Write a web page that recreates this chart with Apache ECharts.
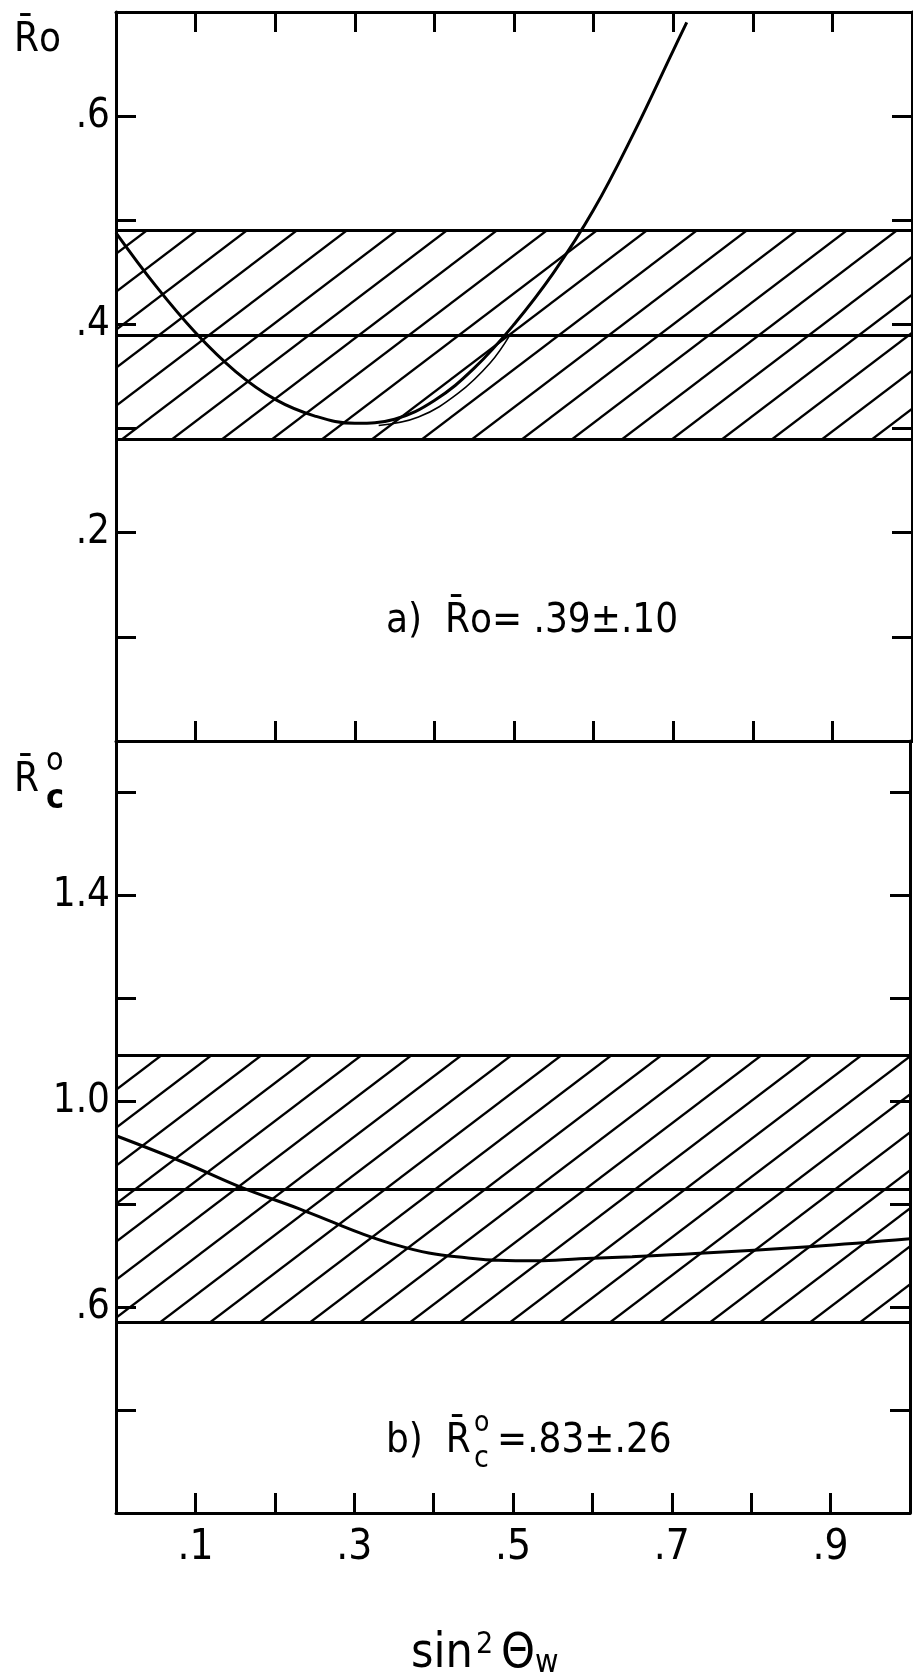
<!DOCTYPE html>
<html>
<head>
<meta charset="utf-8">
<script src="https://cdn.jsdelivr.net/npm/echarts@6/dist/echarts.min.js"></script>
<style>
html, body { margin: 0; padding: 0; background: #fff; }
#chart { width: 913px; height: 1674px; }
</style>
</head>
<body>
<div id="chart"></div>
<script>
// values (x = sin^2 theta_W)
var curveA = [[0.0, 0.488], [0.05, 0.437], [0.1, 0.392], [0.15, 0.355], [0.2, 0.328],
    [0.25, 0.312], [0.3, 0.305], [0.35, 0.309], [0.4, 0.327], [0.45, 0.358],
    [0.5, 0.400], [0.55, 0.450], [0.6, 0.510], [0.65, 0.583], [0.7, 0.663], [0.717, 0.690]];
// pen retrace next to the minimum of curve a
var curveA2 = [[0.33, 0.303], [0.38, 0.311], [0.43, 0.334], [0.47, 0.363], [0.495, 0.39]];
var curveB = [[0.0, 0.933], [0.084, 0.882], [0.157, 0.833], [0.231, 0.791], [0.273, 0.765],
    [0.311, 0.742], [0.348, 0.723], [0.394, 0.705], [0.441, 0.696], [0.482, 0.691],
    [0.53, 0.690], [0.584, 0.694], [0.65, 0.698], [0.73, 0.704], [0.877, 0.718], [1.0, 0.733]];

// measured value +- error
var bandA = [0.39, 0.10];
var bandB = [0.83, 0.26];

var xLabelValues = [0.1, 0.3, 0.5, 0.7, 0.9];
var xLabelText = ['.1', '.3', '.5', '.7', '.9'];
var aLabelValues = [0.2, 0.4, 0.6];
var aLabelText = ['.2', '.4', '.6'];
var bLabelValues = [0.6, 1.0, 1.4];
var bLabelText = ['.6', '1.0', '1.4'];

var FONT = "'Liberation Sans Narrow', 'DejaVu Sans Condensed', 'Liberation Sans', sans-serif";

function pick(values, texts) {
    return function (v) {
        var r = Math.round(v * 10) / 10;
        var i = values.indexOf(r);
        return i < 0 ? '' : texts[i];
    };
}

// diagonal hatch tile, lines going up to the right
function hatch(w, h, lw) {
    var c = document.createElement('canvas');
    c.width = w;
    c.height = h;
    var ctx = c.getContext('2d');
    ctx.strokeStyle = '#000';
    ctx.lineWidth = lw;
    for (var k = -1; k <= 1; k++) {
        ctx.beginPath();
        ctx.moveTo(k * w - w * 0.5, h * 1.5);
        ctx.lineTo(k * w + w * 1.5, -h * 0.5);
        ctx.stroke();
    }
    return {image: c, repeat: 'repeat'};
}

var black = '#000';
var frameLine = {onZero: false, lineStyle: {color: black, width: 3}};
var tick = {inside: true, length: 20, lineStyle: {color: black, width: 3}};

function xAx(grid, pos, labels) {
    return {
        gridIndex: grid, type: 'value', min: 0, max: 1, interval: 0.1, position: pos,
        axisLine: frameLine, axisTick: tick, splitLine: {show: false},
        axisLabel: labels ? {
            show: true, formatter: pick(xLabelValues, xLabelText), color: black,
            fontSize: 42, fontFamily: FONT, margin: 14
        } : {show: false}
    };
}

function yAx(grid, pos, min, max, interval, labels) {
    return {
        gridIndex: grid, type: 'value', min: min, max: max, interval: interval, position: pos,
        axisLine: frameLine, axisTick: tick, splitLine: {show: false},
        axisLabel: labels ? {
            show: true, formatter: pick(labels[0], labels[1]), color: black,
            fontSize: 40, fontFamily: FONT, margin: 6
        } : {show: false}
    };
}

function band(b) {
    return {
        markArea: {
            silent: true,
            itemStyle: {color: hatch(50, 38, 2.3)},
            data: [[{yAxis: b[0] - b[1]}, {yAxis: b[0] + b[1]}]]
        },
        markLine: {
            silent: true, symbol: ['none', 'none'], label: {show: false},
            lineStyle: {color: black, width: 3, type: 'solid'},
            data: [{yAxis: b[0] - b[1]}, {yAxis: b[0]}, {yAxis: b[0] + b[1]}]
        }
    };
}

function curve(data, xi, yi, width, extra) {
    var s = {
        type: 'line', data: data, xAxisIndex: xi, yAxisIndex: yi,
        smooth: 0.4, showSymbol: false, symbol: 'none',
        lineStyle: {color: black, width: width}, z: 5
    };
    if (extra) {
        s.markArea = extra.markArea;
        s.markLine = extra.markLine;
    }
    return s;
}

var txt = {fill: black, fontFamily: FONT};

var chart = echarts.init(document.getElementById('chart'));
chart.setOption({
    animation: false,
    backgroundColor: '#fff',
    grid: [
        {left: 116, top: 12, width: 796, height: 729},
        {left: 116, top: 741, width: 796, height: 772}
    ],
    xAxis: [xAx(0, 'bottom', false), xAx(0, 'top', false), xAx(1, 'bottom', true)],
    yAxis: [
        yAx(0, 'left', 0, 0.7, 0.1, [aLabelValues, aLabelText]),
        yAx(0, 'right', 0, 0.7, 0.1, null),
        yAx(1, 'left', 0.2, 1.7, 0.2, [bLabelValues, bLabelText]),
        yAx(1, 'right', 0.2, 1.7, 0.2, null)
    ],
    series: [
        curve(curveA, 0, 0, 3, band(bandA)),
        curve(curveA2, 0, 0, 1.6),
        curve(curveB, 2, 2, 3, band(bandB))
    ],
    graphic: [
        // y names
        {type: 'text', left: 14, top: 21, style: Object.assign({text: 'R\u0304o', fontSize: 40}, txt)},
        {type: 'text', left: 14, top: 761, style: Object.assign({text: 'R\u0304', fontSize: 40}, txt)},
        {type: 'text', left: 46, top: 746, style: Object.assign({text: 'o', fontSize: 32}, txt)},
        {type: 'text', left: 46, top: 782, style: Object.assign({text: 'c', fontSize: 34, fontWeight: 'bold'}, txt)},
        // panel notes
        {type: 'text', left: 386, top: 602, style: Object.assign({text: 'a)  R\u0304o= .39\u00b1.10', fontSize: 40}, txt)},
        {type: 'text', left: 386, top: 1422, style: Object.assign({text: 'b)  R\u0304', fontSize: 40}, txt)},
        {type: 'text', left: 474, top: 1410, style: Object.assign({text: 'o', fontSize: 28}, txt)},
        {type: 'text', left: 474, top: 1444, style: Object.assign({text: 'c', fontSize: 30}, txt)},
        {type: 'text', left: 497, top: 1422, style: Object.assign({text: '=.83\u00b1.26', fontSize: 40}, txt)},
        // x title
        {
            type: 'text', left: 411, top: 1630,
            style: {
                text: '{m|sin}{p|2}{m|\u0398}{b|w}',
                fill: black,
                rich: {
                    m: {fontSize: 48, fontFamily: FONT, lineHeight: 50, verticalAlign: 'middle'},
                    p: {fontSize: 30, fontFamily: FONT, lineHeight: 30, verticalAlign: 'top', padding: [0, 8, 0, 3]},
                    b: {fontSize: 32, fontFamily: FONT, lineHeight: 30, verticalAlign: 'bottom'}
                }
            }
        }
    ]
});
</script>
</body>
</html>
